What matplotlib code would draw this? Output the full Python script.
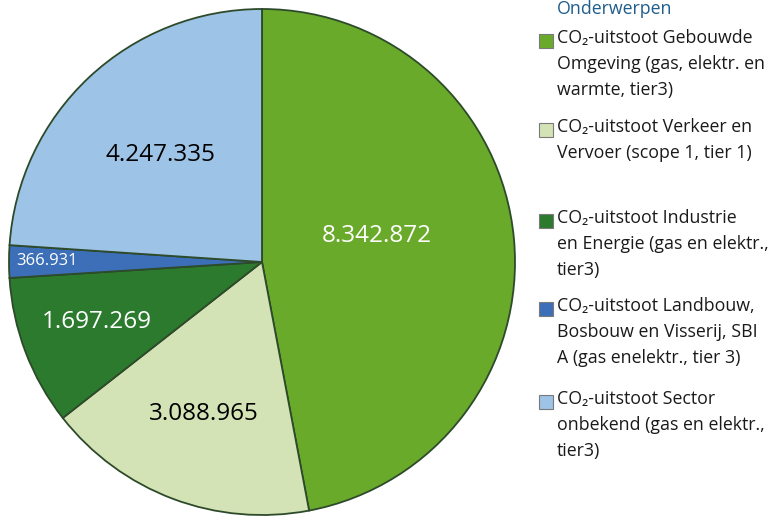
import matplotlib
matplotlib.use('Agg')
import matplotlib.pyplot as plt
from matplotlib.patches import Rectangle

plt.rcParams['font.family'] = ['Open Sans', 'DejaVu Sans']

values = [8342872, 3088965, 1697269, 366931, 4247335]
value_labels = ['8.342.872', '3.088.965', '1.697.269', '366.931', '4.247.335']
colors = ['#6aaa2a', '#d4e3b5', '#2b7a2e', '#3c6fb8', '#9dc3e6']
legend_labels = [
    'CO₂-uitstoot Gebouwde\nOmgeving (gas, elektr. en\nwarmte, tier3)',
    'CO₂-uitstoot Verkeer en\nVervoer (scope 1, tier 1)',
    'CO₂-uitstoot Industrie\nen Energie (gas en elektr.,\ntier3)',
    'CO₂-uitstoot Landbouw,\nBosbouw en Visserij, SBI\nA (gas enelektr., tier 3)',
    'CO₂-uitstoot Sector\nonbekend (gas en elektr.,\ntier3)',
]
legend_title = 'Onderwerpen'

# label placement inside the pie (radius units) and text style
label_pos = [(0.455, 0.103), (-0.229, -0.601), (-0.652, -0.237), (-0.85, 0.004), (-0.403, 0.423)]
label_col = ['white', 'black', 'white', 'white', 'black']
label_size = [17.5, 17.5, 17.5, 12, 17.5]

W, H = 774, 516
fig = plt.figure(figsize=(W / 100, H / 100), dpi=100)
cx, cy, r = 262, 254, 253
ax = fig.add_axes([(cx - r) / W, (cy - r) / H, 2 * r / W, 2 * r / H])
wedges, _ = ax.pie(values, colors=colors, startangle=90, counterclock=False, radius=1,
                   wedgeprops=dict(edgecolor='#2d4a2a', linewidth=1.3))
for w in wedges:
    w.set_clip_on(False)
ax.set_xlim(-1, 1)
ax.set_ylim(-1, 1)
ax.set_aspect('equal')
ax.axis('off')

for (x, y), txt, c, s in zip(label_pos, value_labels, label_col, label_size):
    ax.text(x, y, txt, color=c, fontsize=s, ha='center', va='center')

# legend, laid out by hand
fig.text(557 / W, 1 - 9 / H, legend_title, color='#1f5d8c', fontsize=12.8, va='center', ha='left')
first_line = [41, 130, 221, 309, 402]
for y0, lab, col in zip(first_line, legend_labels, colors):
    fig.patches.append(Rectangle((539 / W, 1 - (y0 + 7) / H), 14 / W, 14 / H, facecolor=col,
                                 edgecolor='#7a7a7a', linewidth=0.8, transform=fig.transFigure))
    fig.text(557 / W, 1 - (y0 - 12) / H, lab, fontsize=12.8, va='top', ha='left',
             linespacing=1.57, color='#1a1a1a')

fig.savefig('out.png', dpi=100)
